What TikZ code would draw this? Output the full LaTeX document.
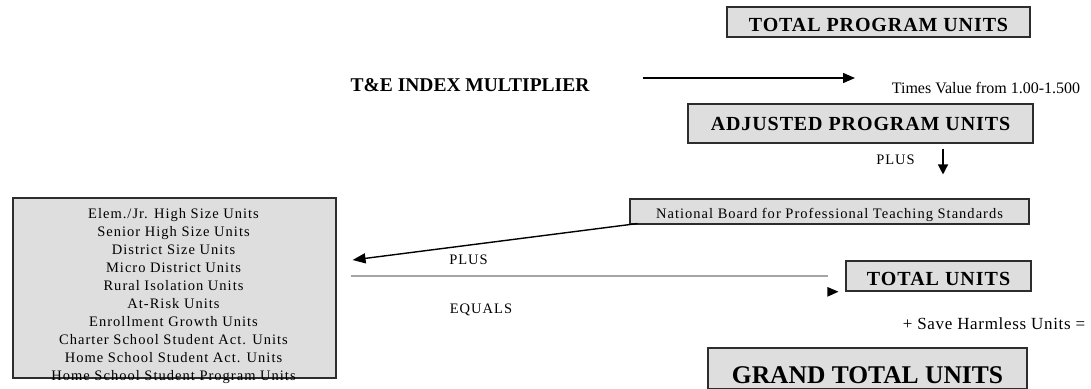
\documentclass[tikz,border=0pt]{standalone}
\usepackage{fontspec}
\setmainfont{Liberation Serif}
\usetikzlibrary{arrows.meta,calc}
\definecolor{boxgray}{RGB}{222,222,222}
\definecolor{boxline}{RGB}{45,45,45}
\definecolor{rulegray}{RGB}{165,165,165}
\tikzset{
  box/.style={draw=boxline, line width=1.1pt, fill=boxgray, inner sep=0pt, anchor=center},
  hd/.style={font=\fontsize{20}{24}\selectfont\bfseries\addfontfeature{LetterSpace=4.5}, text height=13pt, text depth=0pt},
  hdtight/.style={font=\fontsize{20}{24}\selectfont\bfseries\addfontfeature{LetterSpace=5}},
  big/.style={font=\fontsize{25.5}{30}\selectfont\bfseries},
  body/.style={font=\fontsize{14.5}{18}\selectfont\addfontfeature{LetterSpace=7}, inner sep=0pt, text height=9.6pt, text depth=0pt},
  note/.style={font=\fontsize{16}{19}\selectfont, inner sep=0pt, text height=10.6pt, text depth=0pt},
  arr/.style={line width=1.4pt, -{Triangle[length=12pt,width=10pt]}},
}
\begin{document}
\begin{tikzpicture}[x=1pt,y=-1pt]
\clip (0,0) rectangle (1091,388);
\fill[white] (0,0) rectangle (1091,388);

% boxes
\node[box, hd, text height=19pt, minimum width=303pt, minimum height=30pt] (tpu) at (878.5,22) {TOTAL PROGRAM UNITS};
\node[box, hd, minimum width=345pt, minimum height=39pt] (apu) at (860.5,123.5) {ADJUSTED PROGRAM UNITS};
\node[box, body, text height=13.6pt, minimum width=399pt, minimum height=25pt] (nb) at (829.5,211.5) {National Board for Professional Teaching Standards};
\node[box, hdtight, text height=19pt, text depth=0pt, minimum width=185pt, minimum height=30pt] (tu) at (938.5,276) {TOTAL UNITS};
\node[box, big, text height=30pt, text depth=0pt, minimum width=319pt, minimum height=41pt] (gt) at (867.5,368.5) {GRAND TOTAL UNITS};
\node[box, minimum width=323pt, minimum height=180pt] (lb) at (174.5,288) {};

% list inside left box
\foreach \t [count=\i] in {Elem./Jr. High Size Units, Senior High Size Units, District Size Units, Micro District Units, Rural Isolation Units, At-Risk Units, Enrollment Growth Units, Charter School Student Act. Units, Home School Student Act. Units, Home School Student Program Units}
  \node[body] (l\i) at ($(lb.center)+(-1,-74.5+18.05*\i-18.05)$) {\t};

% free texts
\node[font=\fontsize{19.5}{23}\selectfont\bfseries, inner sep=0pt, text height=12.8pt, text depth=0pt] (tei) at (470,85) {T\&E INDEX MULTIPLIER};
\node[note] (times) at (986,88) {Times Value from 1.00-1.500};
\node[body] (plusa) at (895.5,160) {PLUS};
\node[body] (plusb) at (468.5,259.5) {PLUS};
\node[body] (equals) at (481,308.8) {EQUALS};
\node[note, font=\fontsize{17}{20}\selectfont\addfontfeature{LetterSpace=4}, text height=11.2pt] (save) at (994,324.2) {+ Save Harmless Units =};

% connectors
\coordinate (ta) at (643,78);
\coordinate (tb) at (855,78);
\draw[arr] (ta) -- (tb);
\draw[arr, -{Triangle[length=10pt,width=10pt]}] ($(apu.south)+(82.5,5)$) -- ($(nb.north)+(113.5,-24)$);
\coordinate (tipA) at ($(lb.east)+(16,-28)$);
\draw[arr, -{Triangle[length=13pt,width=10pt]}] ($(nb.south west)+(8,-1)$) -- (tipA);
\draw[rulegray, line width=1.5pt] ($(lb.east)+(14,-12)$) -- ($(tu.west)+(-17,0)$);
\fill ($(tu.west)+(-18,11)$) -- ($(tu.west)+(-7,15.7)$) -- ($(tu.west)+(-18,20.7)$) -- cycle;
\end{tikzpicture}
\end{document}
